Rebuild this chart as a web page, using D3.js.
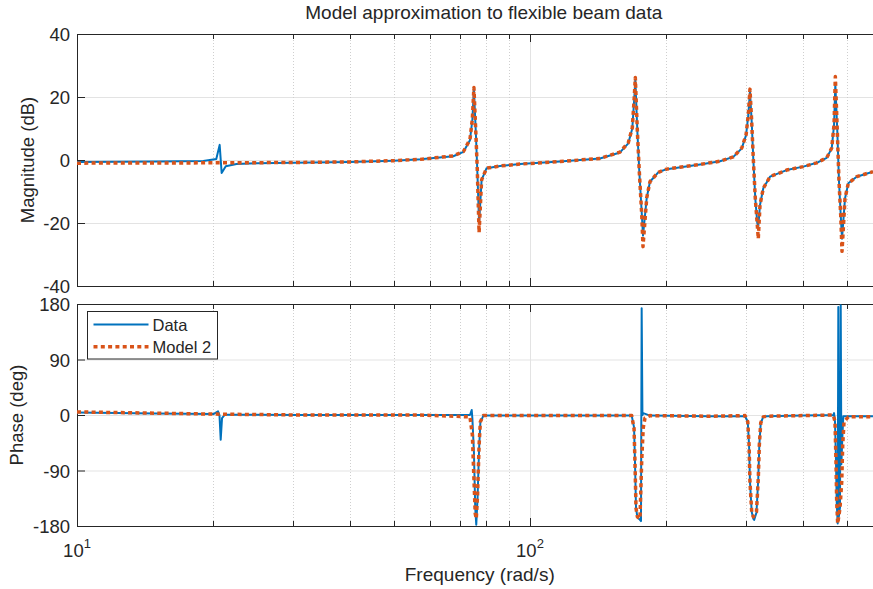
<!DOCTYPE html>
<html>
<head>
<meta charset="utf-8">
<script src="https://cdn.jsdelivr.net/npm/d3@7"></script>
<style>
  body { margin: 0; background: #fff; }
  text { font-family: "Liberation Sans", Arial, Helvetica, sans-serif; fill: #262626; }
</style>
</head>
<body>
<svg id="chart"></svg>
<script>
// Measured frequency response (rad/s, dB / deg)
const dataMagW = [10, 15, 19, 20.3, 20.65, 20.86, 21.3, 22.5, 25, 30, 40, 50, 57.2, 67.7, 71.3, 73.7, 74.6, 75.2, 76.0, 76.5,
  77.2, 78.2, 80.2, 85.9, 95, 116.5, 142.7, 158, 164.8, 168.2, 169.9, 170.8, 172.6, 174.3, 176.5, 177.6, 181, 184, 191.9, 200.3,
  237.3, 262.7, 281.1, 293.4, 299.9, 303.4, 305.9, 308.6, 311.1, 314.3, 317.5, 319.1, 321.9, 327.3, 338.7, 368.6, 401.2, 429.5, 451.9, 463.5,
  469, 472.1, 476.9, 481, 485.2, 488.4, 495.9, 504.3, 526.3, 571.6];
const dataMagDb = [-0.6, -0.5, -0.3, 0.3, 4.8, -4.1, -2.0, -1.3, -1.0, -0.9, -0.6, -0.2, 0.2, 1.2, 2.6, 6.3, 12.7, 22.5, 7.4, -3.2,
  -20, -6.3, -2.6, -1.9, -1.3, -0.5, 0.5, 2.4, 5.3, 10, 19.6, 25.5, 9, -3.7, -17, -24, -12, -6.9, -3.9, -2.9,
  -1.4, -0.4, 1, 3.7, 7.9, 14.3, 21.8, 12.2, 0.5, -12.2, -20, -21, -14.3, -9, -5.3, -3.2, -2.1, -0.9, 0.7, 3.7,
  11.1, 24, 9, -6.9, -17.5, -25, -12.2, -7.4, -5.3, -3.7];

const dataPhW = [10, 15, 20, 20.48, 20.63, 20.76, 20.9, 21.2, 31, 57, 73.7, 74.36, 74.6, 75.2, 75.7, 76.1, 76.6, 77.2, 77.7, 78.9,
  120, 167.7, 169.7, 170.5, 171.4, 172.6, 174.9, 175.8, 176.4, 177.1, 177.8, 184, 250, 298.4, 302.5, 304.5, 305.9, 308.6, 311.1, 312.5,
  316.2, 319.1, 320.8, 323.1, 327.3, 333.1, 400, 467.3, 469, 471.3, 473.7, 475.4, 477.8, 479.3, 480.5, 483.4, 485.2, 486.8, 489, 491.6,
  504.3, 571.6];
const dataPhDeg = [4, 2.5, 1.5, 6, 0, -40, -5, 0.5, 0, 0, 0, 8, -5, -60, -150, -178, -135, -55, -12, -1,
  -1, -1, -20, -75, -150, -166, -170, -172, 173, 0, 3, -1, -2, -2, -11, -49, -108, -157, -168, -170,
  -158, -103, -49, -13, -3, -2, -1, 0, 3, -11, -76, -141, -176, 175, -165, -150, 178, -80, -40, -2,
  -2, -2];

// Model 2 response
const modelMagW = [10, 20, 30, 40, 50, 57.2, 67.7, 71.3, 73.7, 74.6, 75.2, 76.0, 76.5, 77.2, 78.2, 80.2, 85.9, 95, 116.5, 142.7,
  158, 164.8, 168.2, 169.9, 170.8, 172.6, 174.3, 176.5, 177.6, 181, 184, 191.9, 200.3, 237.3, 262.7, 281.1, 293.4, 299.9, 303.4, 305.9,
  308.6, 311.1, 314.3, 317.5, 319.1, 321.9, 327.3, 338.7, 368.6, 401.2, 429.5, 451.9, 463.5, 469, 472.1, 476.9, 481, 485.2, 488.4, 495.9,
  504.3, 526.3, 571.6];
const modelMagDb = [-1.0, -0.9, -0.8, -0.6, -0.2, 0.2, 1.3, 2.7, 6.5, 13, 23, 7.4, -3.2, -23, -6.3, -2.6, -1.9, -1.3, -0.5, 0.5,
  2.5, 5.5, 10.2, 20, 26.2, 9, -3.7, -17.5, -27.5, -12, -6.9, -3.9, -2.9, -1.4, -0.4, 1, 3.8, 8, 14.5, 22.5,
  12.2, 0.5, -12.2, -20.6, -25, -14.3, -9, -5.3, -3.2, -2.1, -0.9, 0.7, 3.8, 11.3, 26.5, 9, -6.9, -17.5, -29, -12.2,
  -7.4, -5.3, -3.7];

const modelPhW = [10, 20, 31, 57, 73.7, 74.6, 75.2, 75.7, 76.1, 76.6, 77.2, 77.7, 78.9, 120, 167.7, 169.7, 170.5, 171.4, 172.6, 174.9,
  176.4, 177.8, 179.4, 184, 250, 298.4, 302.5, 304.5, 305.9, 308.6, 311.1, 316.2, 319.1, 320.8, 323.1, 327.3, 333.1, 400, 467.3, 471.3,
  473.7, 475.4, 477.8, 483.4, 487.7, 490.1, 493.4, 504.3, 571.6];
const modelPhDeg = [5, 1.5, 0, 0, -3, -32, -103, -160, -168, -130, -49, -11, -1, -1, -1, -22, -76, -151, -165, -168,
  -76, -21, -5, -1, -2, -1, -11, -49, -108, -157, -165, -157, -103, -49, -13, -3, -2, -1, 0, -11,
  -76, -141, -176, -151, -108, -49, -11, -3, -3];

// Ticks
const xTicks = [10, 20, 30, 40, 50, 60, 70, 80, 90, 100, 200, 300, 400, 500];
const xTickLabels = [[10, '1'], [100, '2']];
const magTicks = [-40, -20, 0, 20, 40];
const phTicks = [-180, -90, 0, 90, 180];
const seriesNames = ['Data', 'Model 2'];

const W = 873, H = 589;
const left = 77, right = 882.5;
const blue = '#0072BD', orange = '#D95319', axisCol = '#262626';
const fs = 18.5;

const svg = d3.select('#chart').attr('width', W).attr('height', H);
svg.append('rect').attr('width', W).attr('height', H).attr('fill', '#fff');

// Scales
const x = d3.scaleLog().domain([10, 600]).range([left, right]);
const yMag = d3.scaleLinear().domain([-40, 40]).range([286, 34]);
const yPh = d3.scaleLinear().domain([-180, 180]).range([526, 304]);

function panel(id, y, yTicks, yLabel, labelX) {
  const [bottom, top] = y.range();
  const g = svg.append('g');

  g.append('clipPath').attr('id', id)
    .append('rect').attr('x', left).attr('y', top).attr('width', right - left).attr('height', bottom - top);

  // grid
  g.selectAll('.ygrid').data(yTicks).enter().append('line')
    .attr('x1', left).attr('x2', right)
    .attr('y1', d => y(d) + 0.5).attr('y2', d => y(d) + 0.5)
    .attr('stroke', '#e3e3e3').attr('stroke-width', 1);
  g.selectAll('.xgrid').data(xTicks.filter(d => d !== 10)).enter().append('line')
    .attr('x1', d => Math.round(x(d)) + 0.5).attr('x2', d => Math.round(x(d)) + 0.5)
    .attr('y1', top).attr('y2', bottom)
    .attr('stroke', d => d === 100 ? '#e3e3e3' : '#cfcfcf')
    .attr('stroke-dasharray', d => d === 100 ? null : '1 2')
    .attr('stroke-width', 1);

  // box
  g.append('rect')
    .attr('x', left + 0.5).attr('y', top + 0.5)
    .attr('width', right - left).attr('height', bottom - top)
    .attr('fill', 'none').attr('stroke', axisCol).attr('stroke-width', 1);

  // x ticks, inward at bottom and top
  const tl = d => (d === 10 || d === 100) ? 8 : 5;
  g.selectAll('.xtb').data(xTicks).enter().append('line')
    .attr('x1', d => Math.round(x(d)) + 0.5).attr('x2', d => Math.round(x(d)) + 0.5)
    .attr('y1', bottom).attr('y2', d => bottom - tl(d))
    .attr('stroke', axisCol);
  g.selectAll('.xtt').data(xTicks).enter().append('line')
    .attr('x1', d => Math.round(x(d)) + 0.5).attr('x2', d => Math.round(x(d)) + 0.5)
    .attr('y1', top).attr('y2', d => top + tl(d))
    .attr('stroke', axisCol);

  // y ticks + labels
  g.selectAll('.yt').data(yTicks).enter().append('line')
    .attr('x1', left).attr('x2', left + 8)
    .attr('y1', d => y(d) + 0.5).attr('y2', d => y(d) + 0.5)
    .attr('stroke', axisCol);
  g.selectAll('.yl').data(yTicks).enter().append('text')
    .attr('x', left - 7).attr('y', d => y(d) + 7)
    .attr('text-anchor', 'end').attr('font-size', fs)
    .text(d => d);

  g.append('text')
    .attr('transform', `translate(${labelX}, ${(top + bottom) / 2}) rotate(-90)`)
    .attr('text-anchor', 'middle').attr('font-size', fs)
    .text(yLabel);

  return g.append('g').attr('clip-path', `url(#${id})`);
}

function drawLine(g, ws, vs, y, color, dotted) {
  const pts = ws.map((w, i) => [w, vs[i]]);
  g.append('path')
    .datum(pts)
    .attr('d', d3.line().x(d => x(d[0])).y(d => y(d[1])))
    .attr('fill', 'none')
    .attr('stroke', color)
    .attr('stroke-width', dotted ? 3.5 : 2)
    .attr('stroke-dasharray', dotted ? '4 3.3' : null)
    .attr('stroke-linejoin', 'round');
}

const magG = panel('clipMag', yMag, magTicks, 'Magnitude (dB)', 34);
drawLine(magG, dataMagW, dataMagDb, yMag, blue, false);
drawLine(magG, modelMagW, modelMagDb, yMag, orange, true);

const phG = panel('clipPh', yPh, phTicks, 'Phase (deg)', 23);
drawLine(phG, dataPhW, dataPhDeg, yPh, blue, false);
drawLine(phG, modelPhW, modelPhDeg, yPh, orange, true);

// x tick labels (10^n)
xTickLabels.forEach(([v, e]) => {
  const t = svg.append('text')
    .attr('x', x(v)).attr('y', 557)
    .attr('text-anchor', 'middle').attr('font-size', fs);
  t.append('tspan').text('10');
  t.append('tspan').attr('dy', -9).attr('font-size', 13).text(e);
});

svg.append('text')
  .attr('x', (left + right) / 2).attr('y', 581)
  .attr('text-anchor', 'middle').attr('font-size', 19)
  .text('Frequency  (rad/s)');

svg.append('text')
  .attr('x', (left + right) / 2 + 4).attr('y', 19)
  .attr('text-anchor', 'middle').attr('font-size', 19)
  .text('Model approximation to flexible beam data');

// Legend
const lg = svg.append('g').attr('transform', 'translate(87.5, 311.5)');
lg.append('rect').attr('width', 130).attr('height', 47.5)
  .attr('fill', '#fff').attr('stroke', axisCol).attr('stroke-width', 1);
seriesNames.forEach((name, i) => {
  const yy = 13 + i * 22.3;
  lg.append('line')
    .attr('x1', 6).attr('x2', 61).attr('y1', yy).attr('y2', yy)
    .attr('stroke', i === 0 ? blue : orange)
    .attr('stroke-width', i === 0 ? 2 : 3.5)
    .attr('stroke-dasharray', i === 0 ? null : '4 3.3');
  lg.append('text')
    .attr('x', 65).attr('y', yy + 6)
    .attr('font-size', 16.5)
    .text(name);
});
</script>
</body>
</html>
